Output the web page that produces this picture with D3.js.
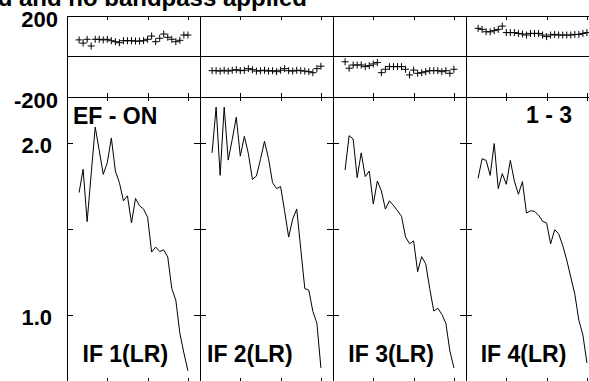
<!DOCTYPE html>
<html><head><meta charset="utf-8">
<script src="https://cdn.jsdelivr.net/npm/d3@7"></script>
<style>
html,body{margin:0;padding:0;background:#fff;overflow:hidden}
svg{display:block}
text{font-family:"Liberation Sans",Arial,Helvetica,sans-serif;font-weight:bold;fill:#000}
</style>
</head><body>
<svg id="c" width="589" height="381"></svg>
<script>
// ---------------- data ----------------
const titleText = "ed and no bandpass applied";
const panelLabels = ["IF 1(LR)", "IF 2(LR)", "IF 3(LR)", "IF 4(LR)"];
const cornerLeftLabel = "EF - ON";
const cornerRightLabel = "1 - 3";
const channels = [3,4,5,6,7,8,9,10,11,12,13,14,15,16,17,18,19,20,21,22,23,24,25,26,27,28,29,30];
const channelTicks = [0, 10, 20, 30];
const phaseTicks = [-200, 200];
const phaseTickLabels = ["-200", "200"];
const ampTicks = [1.0, 1.5, 2.0];
const ampTickLabels = [1.0, 2.0];

const phaseIF1 = [82,66,85,52,85,85,82,85,78,73,68,78,78,78,76,76,78,85,101,73,90,111,95,85,73,80,106,106];
const phaseIF2 = [-70,-70,-72,-68,-72,-68,-65,-70,-68,-60,-65,-72,-70,-68,-72,-70,-75,-68,-60,-70,-72,-68,-70,-72,-75,-80,-60,-48];
const phaseIF3 = [-26,-58,-42,-42,-42,-50,-45,-37,-30,-80,-63,-50,-50,-50,-50,-63,-91,-67,-83,-80,-75,-70,-70,-70,-75,-70,-83,-63];
const phaseIF4 = [139,134,122,122,128,134,150,118,118,118,114,111,106,114,114,114,106,98,106,109,106,106,106,106,109,109,114,118];

const ampIF1 = [1.711,1.846,1.542,1.82,2.092,1.956,1.817,1.885,2.029,1.836,1.769,1.663,1.692,1.534,1.677,1.634,1.615,1.567,1.365,1.394,1.368,1.378,1.336,1.153,1.085,0.893,0.778,0.674];
const ampIF2 = [1.942,2.208,1.811,2.208,1.900,2.02,2.150,1.923,2.038,1.938,1.788,1.807,1.904,2.009,1.909,1.769,1.734,1.746,1.603,1.452,1.557,1.615,1.384,1.153,1.143,1.02,0.951,0.691];
const ampIF3 = [1.842,2.042,2.023,1.798,1.942,1.804,1.836,1.644,1.778,1.721,1.615,1.663,1.636,1.605,1.573,1.453,1.413,1.430,1.251,1.338,1.297,1.153,1.022,1.038,1.003,0.951,0.789,0.691];
const ampIF4 = [1.794,1.908,1.898,1.811,1.996,1.734,1.821,1.759,1.898,1.778,1.701,1.775,1.592,1.605,1.602,1.580,1.544,1.534,1.413,1.495,1.471,1.403,1.318,1.219,1.120,0.968,0.883,0.72];

const phaseSeries = [phaseIF1, phaseIF2, phaseIF3, phaseIF4];
const ampSeries = [ampIF1, ampIF2, ampIF3, ampIF4];

// ---------------- layout ----------------
const plotLeft = 67, panelW = 133;
const phTop = 16, phBottom = 97, ampBottom = 382;
const labelOffsets = [15.5, 7, 15.3, 14.7];

const svg = d3.select("#c");
const panelX = d3.scaleLinear().domain([0, 1]).range([plotLeft, plotLeft + panelW]);
const yP = d3.scaleLinear().domain([-200, 200]).range([phBottom, phTop]);
const yA = d3.scaleLinear().domain([0.609, 2.267]).range([ampBottom, phBottom]);

// title (cut at the top edge, as in the reference)
svg.append("text").attr("x", 307).attr("y", 5.5).attr("text-anchor", "end")
  .style("font-size", "24px").text(titleText);

const crossPath = "M-3.5,0H3.5M0,-3.5V3.5";

panelLabels.forEach((lab, i) => {
  const left = panelX(i), right = panelX(i + 1);
  const x = d3.scaleLinear().domain([0, 33]).range([left, right]);
  const g = svg.append("g");

  const tickAxis = (gen, y, size) => {
    g.append("g").attr("transform", `translate(0,${y})`)
      .call(gen(x).tickValues(channelTicks).tickSize(size).tickFormat(""))
      .call(s => s.select(".domain").remove())
      .selectAll("line").attr("stroke", "#000").attr("shape-rendering", "crispEdges");
  };
  tickAxis(d3.axisTop, phTop, -4);
  tickAxis(d3.axisBottom, phBottom, -4);
  tickAxis(d3.axisTop, phBottom, -4);
  tickAxis(d3.axisBottom, ampBottom, -4);

  g.append("g").attr("transform", `translate(${left},0)`)
    .call(d3.axisLeft(yA).tickValues(ampTicks).tickSize(-6).tickFormat(""))
    .call(s => s.select(".domain").remove())
    .selectAll("line").attr("stroke", "#000").attr("shape-rendering", "crispEdges");
  g.append("g").attr("transform", `translate(${right},0)`)
    .call(d3.axisRight(yA).tickValues(ampTicks).tickSize(-6).tickFormat(""))
    .call(s => s.select(".domain").remove())
    .selectAll("line").attr("stroke", "#000").attr("shape-rendering", "crispEdges");

  g.append("line").attr("x1", left).attr("x2", left).attr("y1", phTop).attr("y2", ampBottom)
    .attr("stroke", "#000").attr("shape-rendering", "crispEdges");
  g.append("line").attr("x1", right).attr("x2", right).attr("y1", phTop).attr("y2", ampBottom)
    .attr("stroke", "#000").attr("shape-rendering", "crispEdges");

  g.selectAll("path.ph").data(phaseSeries[i]).join("path").attr("class", "ph")
    .attr("d", crossPath)
    .attr("transform", (d, k) => `translate(${x(channels[k])},${yP(d)})`)
    .attr("fill", "none").attr("stroke", "#000").attr("stroke-width", 1);

  const line = d3.line().x((d, k) => x(channels[k])).y(d => yA(d));
  g.append("path").datum(ampSeries[i]).attr("d", line)
    .attr("fill", "none").attr("stroke", "#000").attr("stroke-width", 1);

  g.append("text").attr("x", left + labelOffsets[i]).attr("y", 362)
    .style("font-size", "23px").text(lab);
});

[phTop, yP(0), phBottom, ampBottom].forEach(y => {
  svg.append("line").attr("x1", plotLeft).attr("x2", panelX(4)).attr("y1", y).attr("y2", y)
    .attr("stroke", "#000").attr("shape-rendering", "crispEdges");
});

svg.append("g").attr("transform", `translate(${plotLeft},0)`)
  .call(d3.axisLeft(yP).tickValues(phaseTicks).tickSize(0).tickPadding(9)
    .tickFormat((d, k) => phaseTickLabels[k]))
  .call(s => s.select(".domain").remove())
  .selectAll("text").attr("dy", "10px").style("font-size", "22px")
  .style("font-family", "'Liberation Sans',Arial,sans-serif").style("font-weight", "bold");
svg.append("g").attr("transform", `translate(${plotLeft},0)`)
  .call(d3.axisLeft(yA).tickValues(ampTickLabels).tickSize(0).tickPadding(15).tickFormat(d3.format(".1f")))
  .call(s => s.select(".domain").remove())
  .selectAll("text").attr("dy", "9.5px").style("font-size", "22px")
  .style("font-family", "'Liberation Sans',Arial,sans-serif").style("font-weight", "bold");

svg.append("text").attr("x", 73).attr("y", 124).style("font-size", "23px").text(cornerLeftLabel);
svg.append("text").attr("x", 572).attr("y", 123).attr("text-anchor", "end").style("font-size", "23px").text(cornerRightLabel);
</script>
</body></html>
